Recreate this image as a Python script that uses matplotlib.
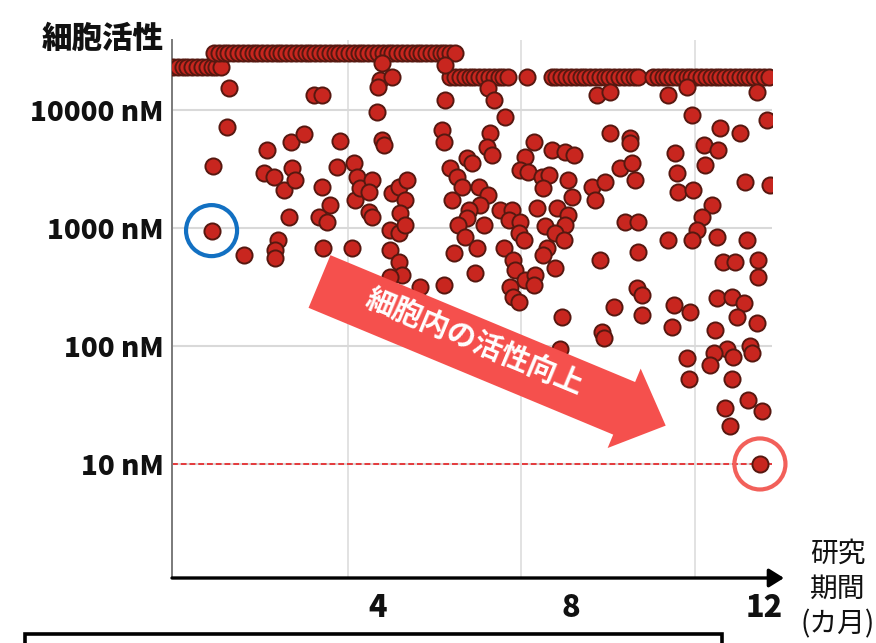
import numpy as np
import matplotlib.pyplot as plt
from matplotlib.patches import Polygon, Rectangle
from matplotlib.ticker import NullLocator

plt.rcParams['font.family'] = ['Noto Sans CJK JP', 'DejaVu Sans']

# compounds that hit the assay ceiling, plotted as flat rows
cap_start_months = [-0.25, -0.15, -0.05, 0.05, 0.15, 0.25, 0.35, 0.45, 0.55, 0.65, 0.75]
cap_start_nM = 23300
cap_mid_months = [0.6, 0.7, 0.8, 0.9, 1.0, 1.1, 1.2, 1.3, 1.4, 1.5, 1.6, 1.7, 1.8,
                  1.9, 2.0, 2.1, 2.2, 2.3, 2.4, 2.5, 2.6, 2.7, 2.8, 2.9, 3.0, 3.1,
                  3.2, 3.3, 3.4, 3.5, 3.6, 3.7, 3.8, 3.9, 4.0, 4.1, 4.2, 4.3, 4.4,
                  4.5, 4.6, 4.7, 4.8, 4.9, 5.0, 5.1, 5.2, 5.3, 5.4, 5.5, 5.6]
cap_mid_nM = 30500
cap_late_months = [5.5, 5.6, 5.7, 5.8, 5.9, 6.0, 6.1, 6.2, 6.3, 6.4, 6.5, 6.6, 6.7,
                   7.1, 7.6, 7.7, 7.8, 7.9, 8.0, 8.1, 8.2, 8.3, 8.4, 8.5, 8.6, 8.7,
                   8.8, 8.9, 9.0, 9.1, 9.2, 9.3, 9.4, 9.7, 9.8, 9.9, 10.0, 10.1, 10.2,
                   10.3, 10.4, 10.5, 10.6, 10.7, 10.8, 10.9, 11.0, 11.1, 11.2, 11.3,
                   11.4, 11.5, 11.6, 11.7, 11.8, 11.9, 12.0, 12.1]
cap_late_nM = 19100

# measured compounds: month of synthesis and cellular activity (nM)
months = [0.91, 0.87, 0.57, 1.22, 1.70, 1.63, 1.84, 2.05, 2.20, 2.16, 1.93, 1.87, 1.86,
          2.46, 2.22, 2.29, 2.67, 2.84, 3.22, 3.15, 2.84, 3.01, 2.77, 2.94, 2.87, 3.46,
          3.50, 3.56, 3.53, 3.63, 3.88, 3.81, 3.81, 3.88, 4.05, 4.29, 4.01, 4.08, 3.98,
          4.08, 4.12, 4.29, 4.43, 4.60, 4.57, 4.46, 4.25, 4.43, 4.57, 4.25, 4.43, 4.50,
          4.25, 5.39, 6.29, 6.40, 5.39, 6.64, 5.33, 5.36, 6.33, 6.26, 6.36, 5.84, 5.95,
          5.50, 5.64, 5.74, 5.53, 6.09, 6.29, 6.12, 5.88, 5.84, 5.67, 6.19, 5.81, 6.05,
          5.57, 6.02, 4.88, 5.36, 6.53, 6.78, 6.71, 6.95, 6.92, 7.02, 6.61, 6.81, 6.85,
          7.05, 6.74, 6.81, 6.92, 7.05, 6.95, 7.12, 7.23, 8.54, 8.81, 7.61, 7.88, 8.06,
          7.40, 7.54, 7.43, 7.95, 8.02, 8.44, 8.50, 8.71, 8.81, 9.23, 9.23, 9.02, 9.26,
          9.33, 7.30, 7.71, 7.95, 7.88, 7.47, 7.67, 7.85, 7.50, 7.43, 7.67, 7.26, 7.23,
          8.61, 9.13, 9.40, 9.40, 9.37, 9.47, 9.47, 8.89, 7.81, 8.64, 8.68, 7.78,
          10.02, 10.40, 11.85, 10.51, 12.06, 11.09, 11.51, 10.16, 10.75, 11.06, 10.78,
          10.20, 11.61, 10.23, 10.54, 10.92, 10.72, 10.61, 10.51, 10.02, 11.03, 11.65,
          11.16, 11.41, 11.89, 11.89, 10.13, 10.47, 10.09, 11.03, 11.34, 11.58, 11.44,
          11.85, 10.99, 11.72, 11.75, 11.23, 11.37, 10.96, 10.89, 10.40, 10.44, 11.34,
          11.68, 11.96, 11.20, 11.30, 12.12]
activity_nM = [15300, 7200, 3350, 590, 4580, 2940, 2720, 2100, 5380, 1250, 790, 650, 553,
               6220, 3200, 2550, 13400, 13400, 5460, 3300, 2240, 1570, 1250, 1130, 673, 673,
               3530, 2720, 1730, 2170, 2550, 2030, 1370, 1250, 17900, 19100, 15700, 24900, 9690,
               5570, 5050, 1970, 2240, 2550, 1730, 1330, 962, 900, 1060, 650, 518, 400,
               386, 24000, 15300, 12200, 12200, 8770, 6780, 5380, 6350, 4890, 4160, 3900, 3530,
               3210, 2720, 2240, 1730, 2240, 1910, 1570, 1420, 1210, 1060, 1060, 843, 673,
               611, 413, 318, 329, 1420, 1420, 1170, 1130, 900, 790, 673, 536, 441,
               362, 318, 262, 237, 4020, 3100, 3000, 5360, 13400, 14300, 4580, 4440, 4160,
               2720, 2810, 2170, 2550, 1840, 2240, 1730, 2470, 6350, 5750, 5220, 3210, 3530,
               2550, 1470, 1470, 1290, 1060, 1030, 900, 790, 673, 590, 455, 400, 329,
               536, 1130, 1130, 630, 308, 270, 183, 215, 177, 132, 116, 95,
               13400, 15700, 14300, 9080, 8220, 7000, 6350, 4300, 5050, 4580, 3420,
               2910, 2470, 2030, 2100, 1570, 1250, 962, 790, 790, 843, 790,
               518, 518, 536, 386, 222, 195, 146, 253, 262, 230, 177,
               156, 137, 99, 87, 95, 81, 87, 69, 79, 52, 52,
               35, 28, 30, 21, 2310]

# first hit and final compound
first_month, first_nM = 0.55, 950
final_month, final_nM = 11.92, 10
target_nM = 10

ytick_vals = [10, 100, 1000, 10000]
ytick_labels = ['10 nM', '100 nM', '1000 nM', '10000 nM']
xtick_vals = [4, 8, 12]
xtick_labels = ['4', '8', '12']

W, H = 876, 643
fig = plt.figure(figsize=(W / 100, H / 100), dpi=100)
ax = fig.add_axes([172 / W, 1 - 578 / H, 600 / W, 538 / H])

dot = dict(s=135, facecolor='#c8261f', edgecolor='#561810', linewidths=1.4, zorder=3)
ax.scatter(cap_start_months, [cap_start_nM] * len(cap_start_months), **dot)
ax.scatter(cap_mid_months, [cap_mid_nM] * len(cap_mid_months), **dot)
ax.scatter(cap_late_months, [cap_late_nM] * len(cap_late_months), **dot)
ax.scatter(months, activity_nM, **dot)
ax.scatter([first_month, final_month], [first_nM, final_nM], **dot)

# rings around the first and last compound
ax.scatter([first_month], [first_nM], s=1350, facecolor='none',
           edgecolor='#1270c2', linewidths=3, zorder=4, clip_on=False)
ax.scatter([final_month], [final_nM], s=1350, facecolor='none',
           edgecolor='#f2605a', linewidths=3, zorder=4, clip_on=False)

ax.axhline(target_nM, color='#e5393b', lw=1.4, ls=(0, (3, 1.5)), zorder=2)

ax.set_yscale('log')
ax.set_ylim(1.08, 39200)
ax.set_xlim(-0.27, 12.17)
ax.set_yticks(ytick_vals)
ax.set_yticklabels(ytick_labels, fontsize=20, fontweight='heavy', color='#111111')
ax.yaxis.set_minor_locator(NullLocator())
ax.set_xticks(xtick_vals)
ax.set_xticklabels(xtick_labels, fontsize=22, fontweight='heavy', color='#111111')
ax.set_xticks([3.38, 6.96, 10.57], minor=True)
ax.tick_params(axis='both', which='both', length=0)
ax.tick_params(axis='y', pad=6)
ax.tick_params(axis='x', pad=10)
ax.grid(True, which='major', axis='y', color='#d9d9d9', lw=1.5)
ax.grid(True, which='minor', axis='x', color='#dddddd', lw=1.2)
ax.set_axisbelow(True)

for side in ['top', 'right', 'bottom']:
    ax.spines[side].set_visible(False)
ax.spines['left'].set_color('#7a7a7a')
ax.spines['left'].set_linewidth(1.4)

# time axis drawn as an arrow
ax.annotate('', xy=(1.02, 0), xytext=(0, 0), xycoords='axes fraction',
            arrowprops=dict(arrowstyle='-|>,head_length=0.45,head_width=0.28',
                            mutation_scale=20, lw=2.4, color='black',
                            shrinkA=0, shrinkB=0), annotation_clip=False)

fig.text(103 / W, 1 - 38 / H, '細胞活性', ha='center', va='center',
         fontsize=22, fontweight='heavy', color='#111111')
fig.text(838 / W, 1 - 589 / H, '研究\n期間\n(カ月)', ha='center', va='center',
         fontsize=20, linespacing=1.25, color='#111111')

# big trend arrow, built in pixel units then mapped to figure fractions
ang = np.deg2rad(22.6)
u = np.array([np.cos(ang), np.sin(ang)])
nrm = np.array([-np.sin(ang), np.cos(ang)])
start = np.array([319.5, 281.5])
body_len, head_len, half_body, half_head = 330, 45, 28.5, 43
base = start + body_len * u
tip = start + (body_len + head_len) * u
outline = [start - half_body * nrm, base - half_body * nrm, base - half_head * nrm,
           tip, base + half_head * nrm, base + half_body * nrm, start + half_body * nrm]
fig.patches.append(Polygon([(x / W, 1 - y / H) for x, y in outline], closed=True,
                           transform=fig.transFigure, facecolor='#f5504d',
                           edgecolor='none', zorder=5))
label_at = start + 167 * u - 4 * nrm
fig.text(label_at[0] / W, 1 - label_at[1] / H, '細胞内の活性向上', ha='center', va='center',
         rotation=-22.6, rotation_mode='anchor', fontsize=21, fontweight='bold',
         color='white', zorder=6)

# frame of the caption box below
fig.patches.append(Rectangle((25 / W, 1 - 700 / H), 697 / W, 66 / H,
                             transform=fig.transFigure, facecolor='none',
                             edgecolor='black', lw=2.6, zorder=5))

fig.savefig('out.png', dpi=100, facecolor='white')
